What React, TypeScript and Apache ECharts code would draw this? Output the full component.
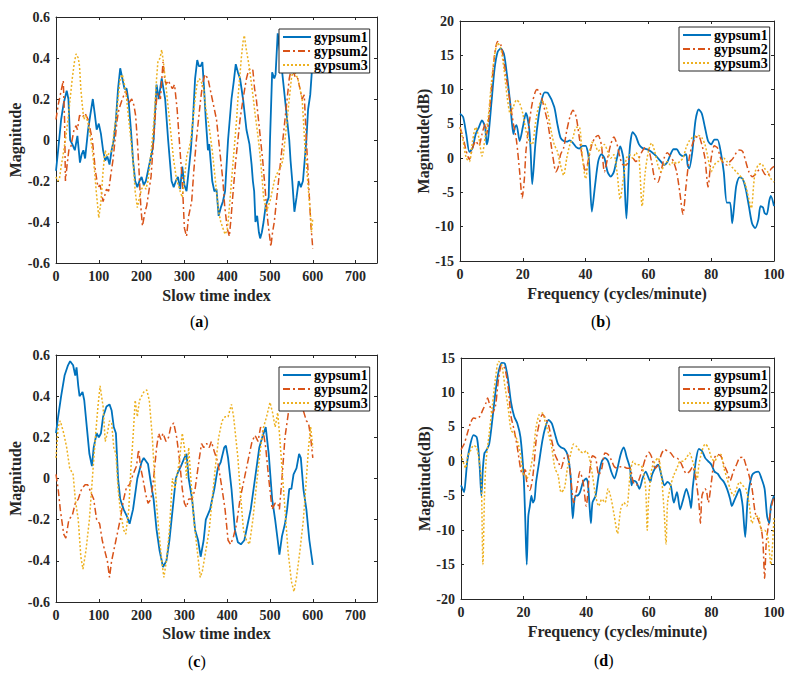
import React, { useEffect, useRef } from "react";
import * as echarts from "echarts";

const SERIES_NAMES = ["gypsum1", "gypsum2", "gypsum3"];
const COLORS = ["#0072BD", "#D95319", "#EDB120"];
const LINE_TYPES: any[] = ["solid", [7, 3, 2, 3], [2, 2]];
const CAPTIONS = ["a", "b", "c", "d"];

// Panel (a): slow time index vs magnitude
const aGypsum1: number[][] = [[0,-0.15],[5,-0.05],[12,0.1],[18,0.18],[25,0.24],[29,0.2],[33,0.0],[38,-0.02],[44,-0.05],[50,0.02],[56,-0.11],[60,-0.07],[64,-0.05],[68,-0.09],[75,0.05],[80,0.12],[86,0.2],[91,0.12],[95,0.05],[100,0.08],[105,0.03],[110,-0.05],[115,-0.1],[120,-0.08],[125,-0.12],[130,-0.05],[135,0.0],[140,0.1],[145,0.25],[150,0.35],[155,0.3],[160,0.25],[165,0.25],[170,0.18],[175,0.05],[180,-0.1],[185,-0.2],[190,-0.23],[195,-0.2],[200,-0.18],[205,-0.22],[210,-0.2],[215,-0.15],[220,-0.1],[225,-0.05],[228,0.0],[235,0.27],[240,0.2],[247,0.3],[255,0.2],[262,0.0],[266,-0.1],[270,-0.2],[275,-0.23],[280,-0.2],[285,-0.18],[290,-0.24],[295,-0.13],[300,-0.22],[305,-0.25],[310,-0.15],[315,-0.05],[320,0.1],[325,0.3],[330,0.39],[334,0.36],[338,0.36],[342,0.38],[346,0.25],[350,0.1],[355,-0.05],[358,-0.02],[362,-0.12],[365,-0.2],[370,-0.25],[375,-0.24],[380,-0.37],[385,-0.33],[390,-0.3],[395,-0.25],[402,0.0],[410,0.2],[415,0.28],[420,0.37],[425,0.33],[430,0.3],[437,0.2],[445,0.05],[452,-0.02],[457,-0.12],[460,-0.2],[463,-0.25],[466,-0.4],[470,-0.37],[474,-0.45],[477,-0.48],[481,-0.45],[485,-0.4],[490,-0.32],[497,-0.28],[500,0.0],[505,0.33],[510,0.3],[513,0.32],[518,0.52],[525,0.4],[530,0.3],[535,0.2],[540,0.1],[545,0.0],[548,-0.1],[552,-0.2],[557,-0.35],[562,-0.28],[567,-0.2],[572,-0.23],[577,-0.2],[581,-0.1],[585,0.0],[589,0.15],[594,0.22],[600,0.4]];
const aGypsum2: number[][] = [[0,0.1],[5,0.17],[10,0.22],[17,0.29],[20,0.1],[22,-0.2],[26,-0.12],[30,-0.05],[35,-0.03],[42,0.05],[47,0.07],[50,0.05],[55,0.12],[62,0.11],[68,0.13],[75,0.1],[80,0.05],[85,0.0],[92,-0.15],[98,-0.23],[103,-0.22],[110,-0.3],[114,-0.27],[118,-0.24],[123,-0.25],[128,-0.17],[133,-0.1],[138,0.0],[143,0.1],[147,0.15],[155,0.2],[163,0.24],[167,0.2],[170,0.18],[177,0.2],[182,0.17],[186,0.12],[190,0.0],[194,-0.15],[198,-0.32],[202,-0.42],[208,-0.35],[212,-0.32],[217,-0.25],[222,-0.18],[228,0.0],[233,0.15],[236,0.22],[240,0.23],[244,0.2],[250,0.38],[254,0.3],[257,0.27],[262,0.29],[267,0.27],[272,0.25],[277,0.27],[283,0.15],[288,0.0],[295,-0.2],[300,-0.43],[305,-0.47],[310,-0.37],[317,-0.3],[322,-0.15],[328,0.0],[333,0.1],[338,0.2],[343,0.28],[348,0.32],[355,0.3],[360,0.25],[365,0.2],[370,0.15],[375,0.1],[380,0.0],[385,-0.1],[390,-0.2],[394,-0.32],[400,-0.43],[405,-0.47],[409,-0.38],[412,-0.3],[416,-0.2],[420,-0.1],[425,0.0],[430,0.1],[437,0.2],[445,0.3],[450,0.34],[455,0.35],[460,0.34],[464,0.25],[468,0.2],[473,0.1],[478,0.0],[483,-0.1],[487,-0.2],[491,-0.3],[495,-0.4],[502,-0.52],[506,-0.45],[510,-0.4],[515,-0.3],[520,-0.2],[525,-0.1],[530,0.0],[535,0.1],[540,0.2],[545,0.3],[550,0.35],[555,0.33],[560,0.3],[565,0.3],[570,0.25],[575,0.2],[580,0.22],[585,0.0],[590,-0.2],[595,-0.4],[600,-0.53]];
const aGypsum3: number[][] = [[0,-0.18],[4,-0.2],[8,-0.19],[12,-0.13],[16,-0.08],[22,0.0],[28,0.1],[33,0.2],[38,0.3],[43,0.38],[47,0.42],[52,0.4],[55,0.36],[58,0.25],[61,0.18],[65,0.1],[70,0.12],[75,0.08],[80,0.02],[85,-0.05],[90,-0.15],[94,-0.25],[100,-0.38],[105,-0.3],[110,-0.15],[115,-0.05],[119,-0.08],[122,-0.07],[127,-0.06],[131,-0.05],[136,0.05],[140,0.1],[145,0.2],[150,0.3],[155,0.32],[160,0.27],[165,0.2],[170,0.1],[175,0.0],[180,-0.1],[185,-0.25],[190,-0.33],[195,-0.28],[200,-0.24],[205,-0.22],[210,-0.24],[215,-0.2],[220,-0.1],[225,0.0],[229,0.1],[232,0.2],[235,0.3],[238,0.38],[243,0.4],[247,0.44],[251,0.38],[255,0.3],[260,0.2],[265,0.1],[270,0.0],[275,-0.1],[278,-0.14],[282,-0.2],[286,-0.22],[290,-0.25],[295,-0.28],[298,-0.23],[302,-0.15],[306,-0.07],[310,-0.05],[315,0.0],[320,0.1],[325,0.2],[330,0.28],[335,0.3],[340,0.28],[345,0.25],[350,0.15],[355,0.1],[360,0.03],[365,-0.05],[370,-0.15],[375,-0.25],[380,-0.35],[385,-0.4],[390,-0.43],[395,-0.46],[400,-0.44],[403,-0.38],[407,-0.28],[410,-0.2],[414,-0.1],[418,0.0],[422,0.1],[425,0.2],[429,0.3],[433,0.4],[437,0.48],[440,0.51],[444,0.45],[448,0.4],[452,0.35],[455,0.3],[460,0.22],[465,0.13],[470,0.05],[474,-0.02],[478,-0.1],[482,-0.2],[485,-0.28],[489,-0.32],[492,-0.35],[496,-0.32],[500,-0.3],[505,-0.25],[510,-0.2],[515,-0.17],[520,-0.15],[525,-0.13],[530,-0.1],[535,0.0],[540,0.1],[545,0.2],[550,0.3],[555,0.35],[560,0.32],[565,0.3],[570,0.25],[575,0.2],[578,0.1],[582,-0.05],[585,-0.12],[590,-0.25],[594,-0.35],[597,-0.45],[600,-0.38]];

// Panel (b): frequency vs magnitude (dB)
const bGypsum1: number[][] = [[0,6.5],[1,6],[2,3.5],[3,0.9],[4,1.5],[5,3.5],[6,4.5],[7,5.5],[8,4.5],[8.5,2],[9,3],[10,8],[11,13],[12,15.5],[13,16],[14,15.2],[15,12],[16,8],[17,3.5],[17.5,4.5],[18,4.8],[19,2.5],[20,4.5],[21,6.6],[22,4.5],[22.5,1],[23,-3.8],[24,2],[25,6],[26,8.5],[27,9.6],[28,9.5],[30,7.5],[31,5],[32,3],[33,2.5],[34,2.4],[35,2.6],[36,2.2],[37,1.6],[38,1.4],[39,1.8],[40,1.8],[41,0],[42,-7.8],[43,-4],[44,-0.5],[45,0.6],[46,0],[47,-2],[48,-2.7],[49,-2],[50,0],[51,1.7],[52,0],[53,-8.8],[54,1],[55,3.8],[56,3.2],[57,2],[58,1.5],[60,1.2],[62,0.5],[64,-0.5],[65,-1],[66,-0.6],[67,0.5],[68,1.3],[69,1.3],[70,0.6],[71,0.3],[72,0.6],[72.5,-1],[73,-1.5],[74,1],[75,5.5],[76,7.1],[77,6.5],[78,4.5],[79,2.5],[80,2],[81,2.7],[82,2.7],[83,1],[84,-2],[85,-6.5],[86,-6.5],[86.7,-9.5],[87.5,-6],[88,-4],[89,-2.8],[90,-3],[91,-4.5],[92,-7],[93,-9.5],[94,-10.2],[95,-9],[95.7,-7],[96.5,-7.2],[97,-8],[97.7,-8.2],[98.5,-6.2],[99,-5.5],[100,-7]];
const bGypsum2: number[][] = [[0,4.5],[1,3],[2,1],[3,-0.2],[4,1.5],[5,2.5],[6,1.8],[7,3.5],[8,5],[8.5,3.5],[9,5],[10,10],[11,15],[12,17],[13,16.5],[14,14],[15,11],[16,8],[17,5],[18,2.5],[19,-2],[19.8,-5.8],[20.5,-3],[21,1],[22,5],[23,8],[24,9.7],[24.5,10],[25.5,9.5],[27,7],[28,5],[29,2],[30,-1],[30.5,-2],[31.5,-1],[32,0.5],[33,1.5],[34,4],[35,6],[36,7],[37,6],[38,3],[39,0],[40,-2],[41,0],[42,2],[43,3],[44,3.3],[45,2],[46,-2],[47,0],[48,2],[49,3.1],[50,2],[51,0],[52,-1],[53,-1],[54,0],[55,0],[56,-0.5],[57,0],[58,1],[59,1.5],[60,1.3],[61,-0.5],[62,-3],[63,-3.5],[64,-2],[65,0],[66,0.8],[67,0.3],[68,-0.5],[69,-2],[70,-5],[71,-8.2],[72,-4],[73,0],[74,2],[75,3],[76,3.2],[77,2],[78,0],[79,-4.2],[80,0],[81,1.8],[82,1.5],[83,0],[84,-0.8],[85,-1],[86,-0.5],[87,0],[88,0.8],[89,1.2],[90,1],[91,-0.5],[92,-2],[93,-2.7],[94,-2.4],[95,-1.8],[96,-1.6],[97,-2.3],[98,-2.6],[99,-1.6],[100,-1.2]];
const bGypsum3: number[][] = [[0,4.5],[1,2.5],[2,0],[3,-0.5],[4,2.5],[5,4.5],[6,3],[7,0.3],[8,3],[9,6],[10,11],[11,15],[12,16.8],[13,16],[14,13],[15,9],[16,6.5],[17,7.5],[18,8.5],[19,8],[20,6.5],[21,4],[22,2.5],[23,2],[24,5],[25,7.5],[26,8.3],[27,8],[28,6.5],[29,4],[30,2],[31,1],[32,-1],[33,-2.5],[34,0],[35,2],[36,3],[37,4.5],[38,4.5],[39,0],[40,-3],[41,0],[42,2.3],[43,2],[44,1],[45,1.5],[46,2],[47,1],[48,0],[49,0.5],[50,-2],[51,-6],[52,-3],[53,0],[54,0.5],[55,0],[56,0.8],[57,0],[58,-7],[59,-2],[60,1],[61,2.2],[62,1],[63,-1],[64,-2],[65,-1],[66,-0.5],[67,-1],[68,-0.5],[69,-0.8],[70,-0.5],[71,0],[72,1.5],[73,2.5],[74,3],[75,3.2],[76,3.3],[77,3],[78,2],[79,0],[80,-2],[81,-1],[82,-0.5],[83,-0.5],[84,0],[85,-0.5],[86,-1],[87,-1.5],[88,-2],[89,-2.5],[90,-3],[91,-4],[92,-6],[92.8,-7.3],[93.5,-4],[94,-2],[95,-1],[96,-0.8],[97,-1.5],[98,-2],[99,-3],[100,-3.5]];

// Panel (c): slow time index vs magnitude
const cGypsum1: number[][] = [[0,0.22],[5,0.3],[12,0.4],[20,0.5],[28,0.55],[33,0.57],[40,0.55],[45,0.5],[48,0.54],[52,0.45],[55,0.4],[62,0.42],[66,0.38],[72,0.25],[78,0.12],[84,0.06],[88,0.15],[95,0.22],[100,0.2],[105,0.22],[110,0.3],[118,0.35],[125,0.36],[130,0.33],[135,0.25],[140,0.22],[145,0.0],[150,-0.1],[158,-0.15],[165,-0.18],[172,-0.22],[180,-0.15],[190,0.0],[200,0.08],[205,0.1],[215,0.07],[220,0.0],[228,-0.1],[235,-0.25],[242,-0.35],[250,-0.43],[258,-0.4],[265,-0.3],[270,-0.2],[280,0.0],[285,0.03],[292,0.06],[300,0.1],[305,0.12],[310,0.0],[318,-0.1],[325,-0.25],[332,-0.3],[338,-0.38],[345,-0.3],[350,-0.2],[360,-0.15],[370,-0.05],[378,0.05],[385,0.08],[393,0.15],[397,0.16],[402,0.1],[410,-0.05],[418,-0.25],[425,-0.31],[432,-0.32],[440,-0.3],[445,-0.25],[455,-0.15],[465,0.0],[475,0.15],[482,0.2],[490,0.25],[497,0.12],[505,-0.1],[512,-0.2],[518,-0.3],[522,-0.37],[528,-0.28],[535,-0.22],[540,-0.15],[545,-0.05],[550,-0.05],[555,0.02],[562,0.05],[568,0.12],[572,0.1],[578,-0.05],[585,-0.15],[592,-0.3],[600,-0.42]];
const cGypsum2: number[][] = [[0,0.02],[5,-0.05],[10,-0.15],[18,-0.27],[23,-0.29],[30,-0.2],[38,-0.18],[45,-0.12],[52,-0.1],[60,-0.05],[68,-0.03],[74,-0.03],[80,-0.06],[88,-0.1],[95,-0.2],[102,-0.22],[108,-0.3],[115,-0.36],[120,-0.4],[125,-0.48],[130,-0.4],[140,-0.3],[150,-0.2],[158,-0.1],[165,-0.04],[172,-0.03],[180,0.02],[188,0.06],[193,0.14],[198,0.05],[203,0.0],[210,-0.08],[215,-0.12],[222,-0.1],[228,0.0],[235,0.15],[240,0.22],[245,0.19],[250,0.22],[257,0.18],[263,0.2],[268,0.25],[275,0.27],[282,0.2],[288,0.1],[295,-0.05],[300,-0.12],[305,-0.14],[310,-0.1],[318,-0.1],[325,-0.05],[335,0.1],[340,0.17],[345,0.15],[352,0.17],[358,0.15],[363,0.18],[370,0.13],[378,0.08],[388,-0.05],[395,-0.15],[402,-0.3],[408,-0.32],[415,-0.28],[422,-0.22],[430,-0.1],[440,0.0],[450,0.1],[458,0.18],[465,0.21],[472,0.18],[478,0.25],[485,0.22],[490,0.15],[497,0.0],[505,-0.15],[512,-0.12],[518,-0.12],[522,-0.15],[528,0.0],[535,0.2],[545,0.35],[555,0.35],[565,0.4],[575,0.35],[585,0.28],[590,0.27],[595,0.2],[600,0.1]];
const cGypsum3: number[][] = [[0,0.1],[5,0.25],[10,0.28],[18,0.22],[25,0.15],[32,0.05],[40,0.02],[45,-0.1],[52,-0.2],[58,-0.38],[63,-0.44],[70,-0.35],[78,-0.2],[85,0.0],[92,0.2],[98,0.35],[103,0.45],[110,0.35],[115,0.18],[120,0.22],[125,0.28],[130,0.27],[135,0.15],[140,0.12],[145,-0.05],[150,-0.15],[158,-0.25],[163,-0.27],[170,-0.15],[175,0.05],[180,0.2],[185,0.38],[190,0.3],[195,0.38],[200,0.4],[205,0.42],[212,0.43],[218,0.38],[225,0.2],[232,-0.05],[240,-0.25],[247,-0.4],[252,-0.48],[258,-0.4],[265,-0.25],[272,0.0],[278,-0.05],[283,0.02],[288,0.08],[295,0.22],[300,0.15],[305,0.0],[310,0.15],[315,0.0],[322,-0.2],[330,-0.35],[337,-0.48],[342,-0.45],[350,-0.35],[358,-0.25],[365,-0.1],[372,0.05],[380,0.2],[388,0.28],[395,0.3],[402,0.3],[410,0.36],[415,0.3],[420,0.2],[425,0.1],[430,-0.05],[438,-0.25],[445,-0.3],[452,-0.32],[460,-0.2],[470,0.0],[478,0.15],[485,0.25],[492,0.3],[500,0.37],[506,0.32],[512,0.25],[518,0.32],[522,0.22],[528,0.05],[535,-0.15],[542,-0.35],[550,-0.5],[556,-0.55],[562,-0.48],[570,-0.35],[578,-0.2],[585,0.0],[590,0.15],[595,0.25],[600,0.15]];

// Panel (d): frequency vs magnitude (dB)
const dGypsum1: number[][] = [[0,-3.5],[0.5,-4],[1,-4.5],[1.5,-2.5],[2,0],[3,2.5],[4,3.8],[5,3.5],[5.5,2],[6,-1],[6.5,-5],[7,-1],[7.5,1.2],[8,1.5],[9,2.5],[10,6],[11,10],[12,13],[13,14.3],[14,14.2],[15,12],[16,8.5],[17,6.5],[18,5.5],[19,3.5],[20,-2],[20.5,-8],[21,-15],[21.5,-8],[22,-6.5],[22.5,-5],[23,-6],[23.5,-5.5],[24,-3],[25,0],[26,3],[27,5],[28,6],[29,5.5],[30,4],[31,2.5],[32,2],[33,1.8],[34,1],[35,-2],[35.7,-8.3],[36.5,-5],[37,-5],[38,-4.5],[39,-3],[40,-2.5],[40.5,-3],[41,-6],[41.5,-9],[42,-6],[43,-5],[44,-2],[45,0],[46,0.5],[47,0],[48,-1.5],[49,-2.5],[50,-1],[51,1],[52,2],[53,0.5],[54,-1],[54.5,-3.5],[55,-2.8],[56,-3],[57,-4],[58,-2.5],[59,-1.5],[60,-2.5],[60.5,-3],[61,-2],[62,-1],[63,-0.5],[64,-2],[65,-3.5],[66,-3],[67,-3.5],[68,-6],[69,-4.5],[70,-7],[71,-5.5],[72,-4],[73,-5.5],[73.5,-6.8],[74,-4],[74.5,-2],[75,0],[76,1.8],[77,1.5],[78,0.5],[79,0],[80,-0.5],[81,-1.5],[82,-1.8],[83,-2.5],[84,-3],[85,-4],[86,-5.5],[86.5,-6.5],[87.5,-5.5],[88,-5],[89,-4],[89.5,-5],[90,-6.5],[90.8,-11],[91.5,-6],[92,-4],[93,-2],[94,-1.6],[95,-1.5],[96,-2.5],[97,-4],[97.8,-8],[98.5,-9],[99,-6.5],[100,-5]];
const dGypsum2: number[][] = [[0,1.7],[1,2.5],[2,4],[3,5.5],[4,6.3],[5,6.2],[6,6.5],[7,7.5],[8,8.5],[8.5,9.2],[9,8.5],[10,7],[11,8],[12,12],[13,14],[14,13.5],[15,11],[16,6.5],[17,4.5],[18,2],[19,-1],[19.5,-1.8],[20,-2],[20.5,-1],[21,-3],[22,-4.2],[23,-2],[24,3],[25,5.5],[26,6.8],[27,6.3],[28,5.2],[29,3],[30,1],[31,0],[32,-1],[33,0.5],[34,1],[35,-2],[36,-6],[37,-4],[38,-1.5],[39,-3],[40,-6.5],[41,-2],[42,0.8],[43,0.5],[44,-2],[45,-1],[46,1.2],[47,1],[48,0.2],[49,-0.8],[50,-1],[51,-0.8],[52,-0.8],[53,-1],[54,-1],[55,-3],[56,-3.5],[57,-2.5],[58,-1],[59,0.5],[60,1.3],[61,0.5],[62,-1],[63,-0.5],[64,1],[65,1.7],[66,1.5],[67,1.2],[68,0.6],[69,0.5],[70,0],[71,-1],[72,-1.8],[73,-1.5],[74,-0.8],[75,-2.5],[76,-6],[76.5,-9],[77,-5],[78,-4],[78.5,-4.5],[79,-6],[80,-3],[81,0.5],[82,1],[83,0.8],[84,-0.5],[85,-1.5],[86,-2.8],[87,-1.5],[88,-0.5],[89,0.5],[90,0.6],[91,-0.5],[92,-2],[93,-4],[94,-7.5],[95,-8.5],[96,-10],[96.5,-12],[97,-17],[97.5,-12],[98,-10],[99,-7],[100,-5]];
const dGypsum3: number[][] = [[0,1],[1,-0.5],[1.5,-1],[2,0.5],[3,1.5],[4,2.3],[5,2],[6,-0.5],[6.5,-3],[7,-15],[7.5,-5],[8,0],[9,4],[10,8],[11,12],[12,14.5],[13,14],[14,11],[15,8],[16,4.5],[17,4],[18,3],[19,1],[20,-2],[20.5,-2],[21,-2.5],[22,-1.5],[23,1],[24,5],[25,6.8],[26,7],[27,5.5],[28,4],[29,2],[30,-1],[31,-2],[32,-4.5],[33,-4],[34,-1],[35,1],[36,2.5],[37,2.1],[38,1.5],[39,1.2],[40,1.5],[41,0.5],[42,-2],[43,-5],[44,-6.5],[45,-5.5],[46,-6],[47,-4],[48,-5.5],[49,-8],[50,-10.5],[51,-7],[52,-6],[53,-6.5],[54,-2],[55,0],[56,-0.5],[57,-0.5],[58,-1],[59,-4],[59.5,-10],[60,-5],[61,-1],[62,0],[63,0.5],[64,-2],[65,-8],[65.5,-12],[66,-6],[67,-3.5],[68,-2],[69,-1],[70,0],[71,0],[72,0.5],[73,1.2],[74,0],[75,-1.5],[75.5,-2.5],[76,-0.5],[77,1.5],[78,2.5],[79,2],[80,0.5],[81,0],[82,0.8],[83,1],[84,-1],[85,-2.5],[86,-4],[87,-5],[88,-4],[89,-3],[90,-3.5],[91,-4],[92,-6],[93,-9],[94,-8],[95,-8],[96,-10],[97,-10],[98,-11],[99,-15],[100,-8]];

const FONT = "'Liberation Serif', 'Times New Roman', serif";
const AXIS_COLOR = "#262626";

type Panel = {
  grid: { left: number; top: number; width: number; height: number };
  data: number[][][];
  smooth: number | boolean;
  x: { min: number; max: number; interval: number; name: string; gap: number };
  y: { min: number; max: number; interval: number; name: string; gap: number };
  legend: { left: number; top: number; rowGap: number };
  caption: { x: number; y: number };
};

const PANELS: Panel[] = [
  {
    grid: { left: 56, top: 17, width: 321, height: 246 },
    data: [aGypsum1, aGypsum2, aGypsum3],
    smooth: false,
    x: { min: 0, max: 750, interval: 100, name: "Slow time index", gap: 24 },
    y: { min: -0.6, max: 0.6, interval: 0.2, name: "Magnitude", gap: 31 },
    legend: { left: 279, top: 29, rowGap: 14 },
    caption: { x: 200, y: 322 },
  },
  {
    grid: { left: 460, top: 21, width: 314, height: 240 },
    data: [bGypsum1, bGypsum2, bGypsum3],
    smooth: 0.25,
    x: { min: 0, max: 100, interval: 20, name: "Frequency (cycles/minute)", gap: 24 },
    y: { min: -15, max: 20, interval: 5, name: "Magnitude(dB)", gap: 25 },
    legend: { left: 679, top: 27, rowGap: 15.5 },
    caption: { x: 601, y: 322 },
  },
  {
    grid: { left: 56, top: 355, width: 321, height: 247 },
    data: [cGypsum1, cGypsum2, cGypsum3],
    smooth: false,
    x: { min: 0, max: 750, interval: 100, name: "Slow time index", gap: 23 },
    y: { min: -0.6, max: 0.6, interval: 0.2, name: "Magnitude", gap: 31 },
    legend: { left: 279, top: 367, rowGap: 15 },
    caption: { x: 198, y: 662 },
  },
  {
    grid: { left: 461, top: 358, width: 313, height: 241 },
    data: [dGypsum1, dGypsum2, dGypsum3],
    smooth: 0.25,
    x: { min: 0, max: 100, interval: 20, name: "Frequency (cycles/minute)", gap: 24 },
    y: { min: -20, max: 15, interval: 5, name: "Magnitude(dB)", gap: 26 },
    legend: { left: 679, top: 367, rowGap: 16 },
    caption: { x: 604, y: 661 },
  },
];

function buildOption() {
  const grid: any[] = [];
  const xAxis: any[] = [];
  const yAxis: any[] = [];
  const series: any[] = [];
  const legend: any[] = [];
  const graphic: any[] = [];
  const labelStyle = { fontFamily: FONT, fontWeight: "bold", fontSize: 14, color: AXIS_COLOR };
  const nameStyle = { fontFamily: FONT, fontWeight: "bold", fontSize: 16, color: AXIS_COLOR };
  const line = { show: true, lineStyle: { color: AXIS_COLOR, width: 1 } };
  const tick = { show: true, inside: true, length: 3, lineStyle: { color: AXIS_COLOR } };

  PANELS.forEach((p, i) => {
    grid.push({ ...p.grid, containLabel: false, show: false });
    const hideEnd = (v: number) => (v === 750 ? "" : String(Math.round(v * 10) / 10));
    xAxis.push({
      type: "value", gridIndex: i, position: "bottom",
      min: p.x.min, max: p.x.max, interval: p.x.interval,
      name: p.x.name, nameLocation: "middle", nameGap: p.x.gap, nameTextStyle: nameStyle,
      axisLine: { ...line, onZero: false }, axisTick: tick,
      axisLabel: { ...labelStyle, margin: 6, formatter: hideEnd },
      splitLine: { show: false },
    });
    xAxis.push({
      type: "value", gridIndex: i, position: "top",
      min: p.x.min, max: p.x.max, interval: p.x.interval,
      axisLine: { ...line, onZero: false }, axisTick: tick,
      axisLabel: { show: false }, splitLine: { show: false },
    });
    yAxis.push({
      type: "value", gridIndex: i, position: "left",
      min: p.y.min, max: p.y.max, interval: p.y.interval,
      name: p.y.name, nameLocation: "middle", nameGap: p.y.gap, nameTextStyle: nameStyle,
      axisLine: { ...line, onZero: false }, axisTick: tick,
      axisLabel: { ...labelStyle, margin: 6, formatter: (v: number) => String(Math.round(v * 10) / 10) },
      splitLine: { show: false },
    });
    yAxis.push({
      type: "value", gridIndex: i, position: "right",
      min: p.y.min, max: p.y.max, interval: p.y.interval,
      axisLine: { ...line, onZero: false }, axisTick: tick,
      axisLabel: { show: false }, splitLine: { show: false },
    });
    p.data.forEach((d, k) => {
      series.push({
        type: "line", name: SERIES_NAMES[k],
        xAxisIndex: i * 2, yAxisIndex: i * 2,
        data: d, symbol: "none", smooth: p.smooth,
        lineStyle: { color: COLORS[k], width: k === 0 ? 1.8 : 1.5, type: LINE_TYPES[k] },
        itemStyle: { color: COLORS[k] },
        clip: true,
      });
    });
    legend.push({
      show: true, orient: "vertical",
      left: p.legend.left, top: p.legend.top,
      data: SERIES_NAMES,
      itemWidth: 28, itemHeight: p.legend.rowGap, itemGap: 0,
      padding: [1, 2, 1, 3],
      backgroundColor: "#ffffff", borderColor: AXIS_COLOR, borderWidth: 1, borderRadius: 0,
      itemStyle: { opacity: 0 },
      textStyle: { fontFamily: FONT, fontWeight: "bold", fontSize: 14, color: "#000", padding: [0, 0, 0, -2] },
      selectedMode: false,
      z: 10,
    });
    graphic.push({
      type: "text", left: p.caption.x - 10, top: p.caption.y - 9,
      style: {
        text: "{n|(}{b|" + CAPTIONS[i] + "}{n|)}",
        rich: {
          n: { fontFamily: FONT, fontSize: 16, fill: "#000" },
          b: { fontFamily: FONT, fontSize: 16, fontWeight: "bold", fill: "#000" },
        },
      },
    });
  });

  return { animation: false, backgroundColor: "#ffffff", grid, xAxis, yAxis, series, legend, graphic };
}

export default function App() {
  const ref = useRef<HTMLDivElement>(null);
  useEffect(() => {
    document.body.style.margin = "0";
    if (!ref.current) return;
    const chart = echarts.init(ref.current, null, { renderer: "svg" });
    chart.setOption(buildOption() as any);
    return () => chart.dispose();
  }, []);
  return <div ref={ref} style={{ width: 793, height: 674 }} />;
}
